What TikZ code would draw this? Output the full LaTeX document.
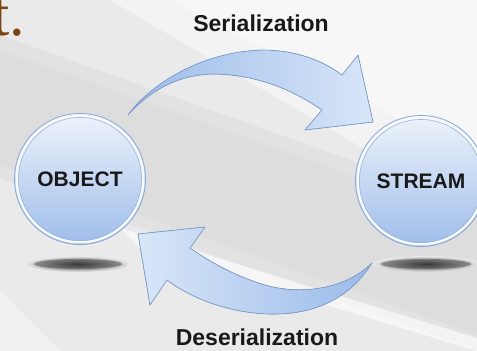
\documentclass[tikz,border=0pt]{standalone}
\usepackage{fontspec}
\setmainfont{Liberation Sans}
\newfontfamily\headfont{Liberation Serif}
\usetikzlibrary{positioning}

\definecolor{bgGrey}{HTML}{EAEAEA}
\definecolor{bandGrey}{HTML}{D4D4D4}
\definecolor{ballTop}{HTML}{EEF3FB}
\definecolor{ballBot}{HTML}{9EBDEA}
\definecolor{ballRim}{HTML}{8AA8D6}
\definecolor{arrLight}{HTML}{D8E6F8}
\definecolor{arrDark}{HTML}{9BBBE9}
\definecolor{arrRim}{HTML}{7B9ED1}
\definecolor{headBrown}{HTML}{7A4414}

\begin{document}
\begin{tikzpicture}[
  x=1pt, y=-1pt,
  ball/.style={circle, draw=ballRim, line width=0.8pt, top color=ballTop, bottom color=ballBot,
    minimum size=131pt, inner sep=0pt, text=black!90, font=\bfseries\fontsize{21}{25}\selectfont},
  blockarrow/.style={draw=arrRim, line width=0.7pt, line join=round},
  caption/.style={font=\bfseries\fontsize{23}{27}\selectfont, text=black!90, inner sep=0pt}
]
  \useasboundingbox (0,0) rectangle (477,351);
  \clip (0,0) rectangle (477,351);

  % background with soft streaks
  \fill[bgGrey] (0,0) rectangle (477,351);
  \fill[white, opacity=0.45] (110,0) -- (477,0) -- (477,215) -- cycle;
  \fill[white, opacity=0.35] (170,0) -- (477,0) -- (477,160) -- cycle;
  \fill[bandGrey, opacity=0.35] (0,35) -- (477,205) -- (477,350) -- (0,178) -- cycle;
  \fill[bandGrey, opacity=0.35] (0,50) -- (477,220) -- (477,335) -- (0,165) -- cycle;
  \fill[white, opacity=0.6] (120,228) -- (477,338) -- (477,351) -- (140,248) -- cycle;
  \fill[white, opacity=0.3] (0,290) -- (60,351) -- (0,351) -- cycle;

  % heading fragment
  \node[font=\headfont\fontsize{62}{62}\selectfont, text=headBrown, anchor=base east, inner sep=0pt]
    (headfrag) at (25,35) {t.};

  % shadows
  \shade[inner color=black!85, outer color=bgGrey] (78,264) ellipse (52 and 8);
  \fill[black!70, opacity=0.5] (78,264) ellipse (44 and 5);
  \shade[inner color=black!85, outer color=bgGrey] (426,264) ellipse (53 and 8);
  \fill[black!70, opacity=0.5] (426,264) ellipse (45 and 5);

  % the two balls
  \node[ball] (obj) at (80,179) {OBJECT};
  \node[ball] (strm) at (421,181) {STREAM};
  \foreach \b in {obj, strm} {
    \draw[white!55!ballTop, line width=2.4pt] (\b.center) circle (63.3);
    \draw[ballRim!85, line width=0.6pt] (\b.center) circle (61.5);
  }

  % serialization arrow
  \filldraw[blockarrow, left color=arrDark, right color=arrLight]
    (128,115) .. controls (150,85) and (200,52) .. (262,50)
    .. controls (295,50) and (322,60) .. (342,75)
    -- (358,55) -- (373,122) -- (305,130) -- (322,110)
    .. controls (290,88) and (255,75) .. (215,74)
    .. controls (180,74) and (150,90) .. (128,115) -- cycle;

  % deserialization arrow
  \filldraw[blockarrow, left color=arrLight, right color=arrDark]
    (372,263) .. controls (345,290) and (300,295) .. (265,285)
    .. controls (235,276) and (210,262) .. (190,248)
    -- (205,227) -- (138,234) -- (150,305) -- (167,280)
    .. controls (200,305) and (250,318) .. (292,313)
    .. controls (330,308) and (355,290) .. (372,263) -- cycle;

  \node[caption] (serlbl) at (261,23) {Serialization};
  \node[caption] (deserlbl) at (257,337) {Deserialization};
\end{tikzpicture}
\end{document}
